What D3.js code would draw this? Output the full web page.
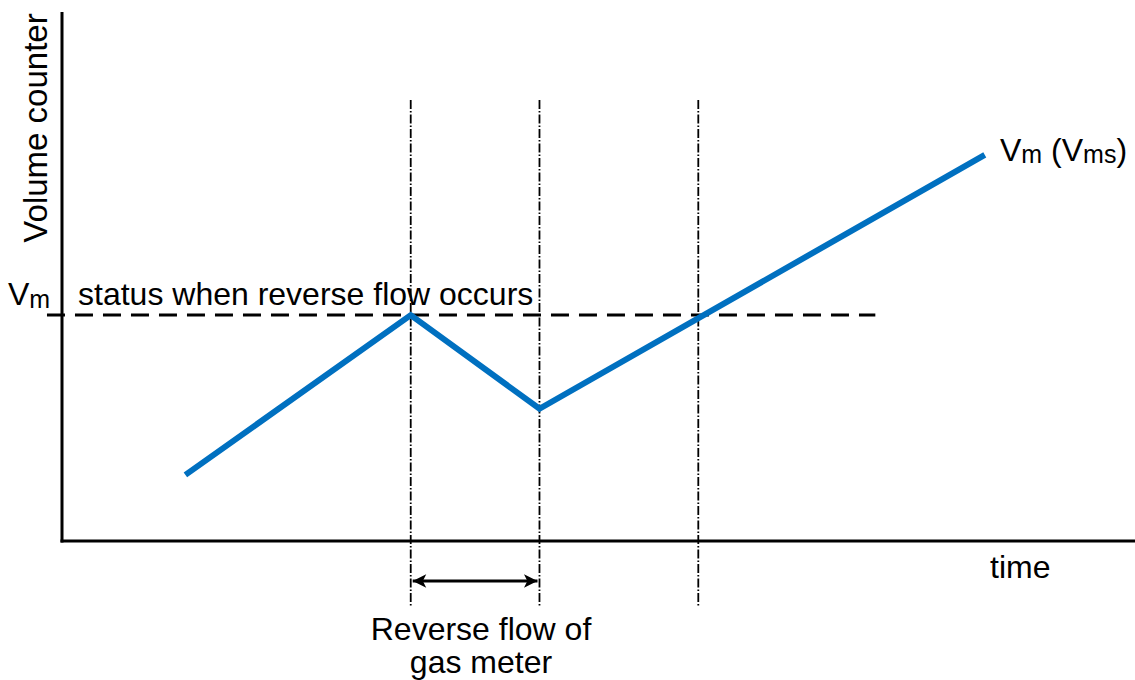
<!DOCTYPE html>
<html>
<head>
<meta charset="utf-8">
<script src="https://cdn.jsdelivr.net/npm/d3@7"></script>
<style>
  body { margin: 0; background: #fff; }
  text { font-family: Arial, "Liberation Sans", sans-serif; fill: #000; }
</style>
</head>
<body>
<svg id="chart" width="1135" height="680"></svg>
<script>
// volume counter curve (arbitrary units)
const times = [11.5, 32.5, 44.5, 86];
const volumes = [12.5, 42.7, 25, 73];
// reverse flow start, end, and the moment Vm is reached again
const markerTimes = [32.5, 44.5, 59.3];
const vmLevel = 42.7;

const svg = d3.select("#chart");

let x = d3.scaleLinear().domain([0, 100]).range([62, 1135]);
let y = d3.scaleLinear().domain([0, 100]).range([541, 12]);

let data = times.map((t, i) => ({t: t, v: volumes[i]}));

// axes (no ticks)
svg.append("line")
  .attr("x1", x(0)).attr("x2", x(0))
  .attr("y1", y(100)).attr("y2", y(0) + 1.5)
  .attr("stroke", "#000").attr("stroke-width", 3);
svg.append("line")
  .attr("x1", x(0) - 1.5).attr("x2", x(100))
  .attr("y1", y(0)).attr("y2", y(0))
  .attr("stroke", "#000").attr("stroke-width", 3);

// vertical dash-dot markers
svg.selectAll(".marker")
  .data(markerTimes)
  .join("line")
  .attr("class", "marker")
  .attr("x1", d => x(d)).attr("x2", d => x(d))
  .attr("y1", 100).attr("y2", 606)
  .attr("stroke", "#000")
  .attr("stroke-width", 1.8)
  .attr("stroke-dasharray", "9,2,1.5,2");

// Vm dashed level
svg.append("line")
  .attr("x1", x(-1.4)).attr("x2", x(75.8))
  .attr("y1", y(vmLevel)).attr("y2", y(vmLevel))
  .attr("stroke", "#000").attr("stroke-width", 3)
  .attr("stroke-dasharray", "18,10");

// the volume line
let lineGen = d3.line().x(d => x(d.t)).y(d => y(d.v));
svg.append("path")
  .datum(data)
  .attr("d", lineGen)
  .attr("fill", "none")
  .attr("stroke", "#0070C0")
  .attr("stroke-width", 6)
  .attr("stroke-linejoin", "miter");

// double arrow for reverse flow
const defs = svg.append("defs");
defs.append("marker")
  .attr("id", "head")
  .attr("viewBox", "0 0 10 10")
  .attr("refX", 10).attr("refY", 5)
  .attr("markerWidth", 6).attr("markerHeight", 4.5)
  .attr("markerUnits", "strokeWidth")
  .attr("orient", "auto-start-reverse")
  .append("path")
  .attr("d", "M0,0 L10,5 L0,10 L2.5,5 Z")
  .attr("fill", "#000");

svg.append("line")
  .attr("x1", x(markerTimes[0]) + 2).attr("x2", x(markerTimes[1]) - 2)
  .attr("y1", 581).attr("y2", 581)
  .attr("stroke", "#000").attr("stroke-width", 3)
  .attr("marker-start", "url(#head)")
  .attr("marker-end", "url(#head)");

// labels
svg.append("text")
  .attr("transform", "translate(47,128) rotate(-90)")
  .attr("text-anchor", "middle")
  .attr("font-size", 33)
  .text("Volume counter");

let vm = svg.append("text").attr("x", 8).attr("y", 305).attr("font-size", 32);
vm.append("tspan").text("V");
vm.append("tspan").attr("font-size", 25).attr("dy", 3).text("m");

svg.append("text")
  .attr("x", 78).attr("y", 305)
  .attr("font-size", 32)
  .text("status when reverse flow occurs");

let vms = svg.append("text").attr("x", 1000).attr("y", 161).attr("font-size", 32);
vms.append("tspan").text("V");
vms.append("tspan").attr("font-size", 25).attr("dy", 2).text("m");
vms.append("tspan").attr("dy", -2).text(" (V");
vms.append("tspan").attr("font-size", 25).attr("dy", 2).text("ms");
vms.append("tspan").attr("dy", -2).text(")");

svg.append("text")
  .attr("x", 990).attr("y", 578)
  .attr("font-size", 32)
  .text("time");

svg.append("text")
  .attr("x", 481).attr("y", 640)
  .attr("text-anchor", "middle")
  .attr("font-size", 32)
  .text("Reverse flow of");
svg.append("text")
  .attr("x", 481).attr("y", 673)
  .attr("text-anchor", "middle")
  .attr("font-size", 32)
  .text("gas meter");
</script>
</body>
</html>
